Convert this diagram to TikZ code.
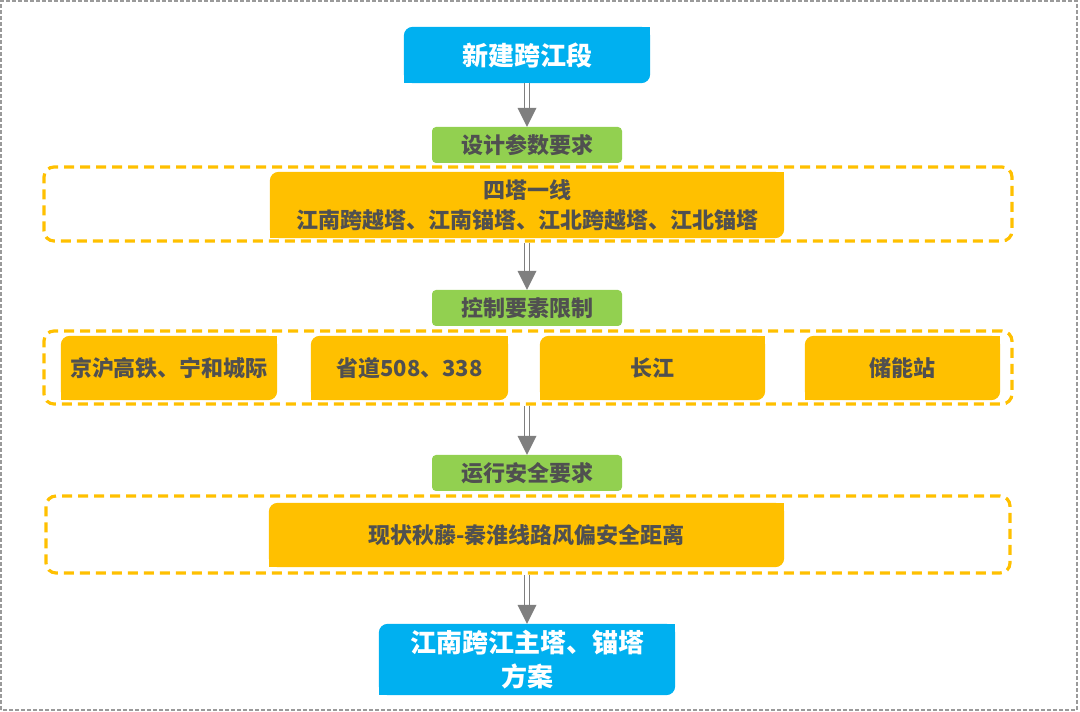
\documentclass[tikz,border=0pt]{standalone}
\usepackage{fontspec}
\setmainfont{Noto Sans CJK SC}
\usetikzlibrary{backgrounds}
\definecolor{cblue}{HTML}{00B0F0}
\definecolor{cyel}{HTML}{FFC000}
\definecolor{cgreen}{HTML}{92D050}
\definecolor{ctext}{HTML}{505050}
\definecolor{carrow}{HTML}{7F7F7F}
\definecolor{cframe}{HTML}{9A9A9A}
\newcommand{\diagfill}[2]{%
  \fill[#2,rounded corners=9pt] (#1.south west) rectangle (#1.north east);
  \fill[#2] (#1.north east) rectangle ([xshift=-12pt,yshift=-12pt]#1.north east);
  \fill[#2] (#1.south west) rectangle ([xshift=12pt,yshift=12pt]#1.south west);
}
\newcommand{\flowarrow}[2]{%
  \draw[carrow, line width=1.6pt, double=white, double distance=3.6pt] (#1.south -| #2.north) -- ([yshift=17pt]#2.north);
  \fill[carrow] ([xshift=-9.5pt,yshift=19pt]#2.north) -- ([xshift=9.5pt,yshift=19pt]#2.north) -- (#2.north) -- cycle;
}
\tikzset{
  boxtext/.style={inner sep=0pt, align=center, font=\bfseries},
  bluebox/.style={boxtext, text=white, font=\bfseries\fontsize{26}{34}\selectfont},
  yelbox/.style={boxtext, text=ctext, font=\bfseries\fontsize{22}{30}\selectfont},
  greenbox/.style={boxtext, text=ctext, fill=cgreen, rounded corners=4pt, font=\bfseries\fontsize{22}{26}\selectfont},
  container/.style={draw=cyel, line width=3.2pt, dash pattern=on 10pt off 6pt, rounded corners=10pt, inner sep=0pt},
}
\begin{document}
\begin{tikzpicture}[x=1pt,y=1pt]
\useasboundingbox (0,0) rectangle (1080,712);
\draw[cframe, line width=1.3pt, dash pattern=on 4pt off 2pt] (1,2) rectangle (1077,711);

% top
\node[bluebox, minimum width=246pt, minimum height=56pt] (top) at (527,657) {新建跨江段};
\node[greenbox, minimum width=190pt, minimum height=36pt] (g1) at (527,567) {设计参数要求};
\node[container, minimum width=968pt, minimum height=74pt] (c1) at (528,508) {};
\node[yelbox, minimum width=514pt, minimum height=66pt] (y1) at (527,507) {四塔一线\\江南跨越塔、江南锚塔、江北跨越塔、江北锚塔};

\node[greenbox, minimum width=190pt, minimum height=36pt] (g2) at (527,404) {控制要素限制};
\node[container, minimum width=968pt, minimum height=73pt] (c2) at (528,344.5) {};
\node[yelbox, minimum width=216pt, minimum height=64pt] (r1) at (169,344) {京沪高铁、宁和城际};
\node[yelbox, minimum width=197pt, minimum height=64pt] (r2) at (409.5,344) {省道508、338};
\node[yelbox, minimum width=225pt, minimum height=64pt] (r3) at (652.5,344) {长江};
\node[yelbox, minimum width=195pt, minimum height=64pt] (r4) at (902.5,344) {储能站};

\node[greenbox, minimum width=190pt, minimum height=36pt] (g3) at (527,239) {运行安全要求};
\node[container, minimum width=964pt, minimum height=77pt] (c3) at (528,177.5) {};
\node[yelbox, minimum width=515pt, minimum height=64pt] (y3) at (526.5,177) {现状秋藤-秦淮线路风偏安全距离};

\node[bluebox, minimum width=296pt, minimum height=71pt] (bot) at (527,52.5) {江南跨江主塔、锚塔\\方案};

\begin{scope}[on background layer]
  \diagfill{top}{cblue}
  \diagfill{bot}{cblue}
  \diagfill{y1}{cyel}
  \diagfill{y3}{cyel}
  \diagfill{r1}{cyel}
  \diagfill{r2}{cyel}
  \diagfill{r3}{cyel}
  \diagfill{r4}{cyel}
\end{scope}

\flowarrow{top}{g1}
\flowarrow{c1}{g2}
\flowarrow{c2}{g3}
\flowarrow{c3}{bot}
\end{tikzpicture}
\end{document}
